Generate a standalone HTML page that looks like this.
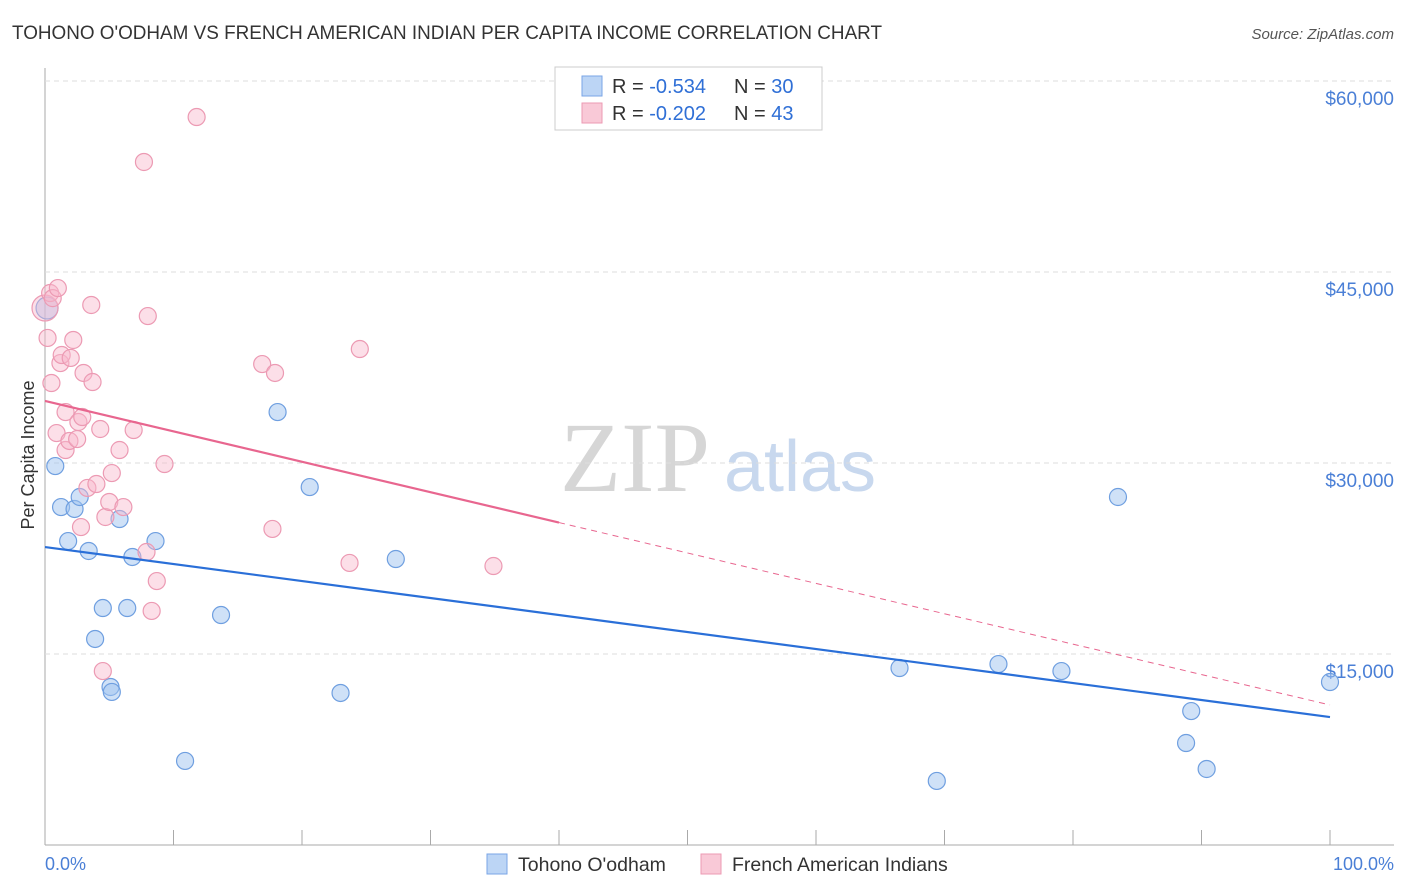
<!DOCTYPE html>
<html><head><meta charset="utf-8"><style>
body{margin:0;background:#fff;font-family:"Liberation Sans",sans-serif;}
#c{position:relative;width:1406px;height:892px;overflow:hidden}
</style></head><body>
<div id="c">
<svg id="s" width="1406" height="892">
<text x="12" y="39" font-size="19" fill="#333" textLength="870" lengthAdjust="spacingAndGlyphs">TOHONO O'ODHAM VS FRENCH AMERICAN INDIAN PER CAPITA INCOME CORRELATION CHART</text>
<text x="1394" y="39" font-size="15" fill="#555" font-style="italic" text-anchor="end">Source: ZipAtlas.com</text>
<text x="635" y="491" font-size="100" fill="#d6d6d6" font-family="Liberation Serif,serif" text-anchor="middle">ZIP</text>
<text x="800" y="491" font-size="72" fill="#c8d8ee" text-anchor="middle">atlas</text>
<text transform="translate(34,455) rotate(-90)" font-size="18" fill="#333" text-anchor="middle">Per Capita Income</text>
<text x="45" y="870" font-size="18" fill="#4a7fd6">0.0%</text>
<text x="1394" y="870" font-size="18" fill="#4a7fd6" text-anchor="end">100.0%</text>
<g id="grid"></g><g id="marks"></g>
<g>
<rect x="555" y="67" width="267" height="63" fill="#fff" stroke="#ccc"/>
<rect x="582" y="76" width="20" height="20" fill="#bcd5f5" stroke="#7aa5e6"/>
<text x="612" y="93" font-size="20" fill="#333">R = <tspan fill="#2f6fd6">-0.534</tspan></text>
<text x="734" y="93" font-size="20" fill="#333">N = <tspan fill="#2f6fd6">30</tspan></text>
<rect x="582" y="103" width="20" height="20" fill="#f9c9d7" stroke="#ec9ab3"/>
<text x="612" y="120" font-size="20" fill="#333">R = <tspan fill="#2f6fd6">-0.202</tspan></text>
<text x="734" y="120" font-size="20" fill="#333">N = <tspan fill="#2f6fd6">43</tspan></text>
</g>
<g>
<rect x="487" y="854" width="20" height="20" fill="#bcd5f5" stroke="#7aa5e6"/>
<text x="518" y="871" font-size="19.5" fill="#333">Tohono O'odham</text>
<rect x="701" y="854" width="20" height="20" fill="#f9c9d7" stroke="#ec9ab3"/>
<text x="732" y="871" font-size="19.5" fill="#333">French American Indians</text>
</g>
</svg></div>
<script>
const yTicks=[15000,30000,45000,60000];
const yTickLabels=["$15,000","$30,000","$45,000","$60,000"];
const blueX=[0.16,0.8,1.25,1.8,2.3,2.7,3.4,3.9,4.5,5.1,5.2,5.8,6.4,6.8,8.6,10.9,13.7,18.1,20.6,23.0,27.3,66.5,69.4,74.2,79.1,83.5,88.8,89.2,90.4,100];
const blueY=[42170,29760,26540,23870,26390,27330,23090,16180,18610,12410,12020,25600,18610,22620,23870,6600,18060,34000,28110,11940,22460,13900,5030,14210,13660,27330,8010,10520,5970,12800];
const pinkX=[0,0.4,0.6,1.0,0.2,0.5,0.9,1.2,1.3,1.6,1.6,1.9,2.0,2.2,2.5,2.6,2.9,3.0,3.3,2.8,3.6,3.7,4.0,4.3,4.5,4.7,5.0,5.2,5.8,6.1,6.9,7.7,7.9,8.0,8.3,8.7,9.3,11.8,16.9,17.7,17.9,23.7,24.5,34.9];
const pinkY=[42170,43350,42950,43740,39820,36280,32350,37850,38480,34000,31020,31730,38250,39660,31880,33220,33610,37070,28040,24970,42410,36360,28350,32670,13660,25760,26940,29210,31020,26540,32590,53640,23010,41540,18380,20730,29920,57170,37770,24820,37070,22150,38950,21910];
const blueTrend=[23400,10050];
const pinkTrend=[34870,11000];
const pinkSolidEnd=40;
const NS="http://www.w3.org/2000/svg";
const X=p=>45+p*12.85, Y=v=>845-v*191/15000;
function mk(t,a,parent){const e=document.createElementNS(NS,t);for(const k in a)e.setAttribute(k,a[k]);document.getElementById(parent).appendChild(e);return e;}
const ax=mk('line',{x1:45,y1:68,x2:45,y2:845,stroke:'#aaa'},'grid');


const bx=mk('line',{x1:45,y1:845,x2:1394,y2:845,stroke:'#aaa'},'grid');


for(let i=0;i<=10;i++){const t=mk('line',{x1:X(i*10),y1:830,x2:X(i*10),y2:845,stroke:'#aaa'},'grid');

}
yTicks.forEach((v,i)=>{const g=mk('line',{x1:45,y1:Y(v),x2:1394,y2:Y(v),stroke:'#ddd','stroke-dasharray':'5,4'},'grid');


const t=mk('text',{x:1394,y:Y(v)+24,'font-size':19,fill:'#4a7fd6','text-anchor':'end'},'grid');t.textContent=yTickLabels[i];

});
blueX.forEach((x,i)=>{const c=mk('circle',{cx:X(x),cy:Y(blueY[i]),r:i==0?11:8.5,fill:'rgba(160,195,240,0.5)',stroke:'#6f9fe0','stroke-width':1.2},'marks');

});
pinkX.forEach((x,i)=>{const c=mk('circle',{cx:X(x),cy:Y(pinkY[i]),r:i==0?13:8.5,fill:'rgba(248,185,205,0.45)',stroke:'#ec9ab3','stroke-width':1.2},'marks');

});
const bl=mk('line',{x1:X(0),y1:Y(blueTrend[0]),x2:X(100),y2:Y(blueTrend[1]),stroke:'#2a6fd8','stroke-width':2.2},'marks');


const pm=pinkTrend[0]+(pinkTrend[1]-pinkTrend[0])*pinkSolidEnd/100;
const pl=mk('line',{x1:X(0),y1:Y(pinkTrend[0]),x2:X(pinkSolidEnd),y2:Y(pm),stroke:'#e8668f','stroke-width':2.2},'marks');


const pd=mk('line',{x1:X(pinkSolidEnd),y1:Y(pm),x2:X(100),y2:Y(pinkTrend[1]),stroke:'#e8668f','stroke-width':1,'stroke-dasharray':'6,5'},'marks');


</script>
</body></html>
